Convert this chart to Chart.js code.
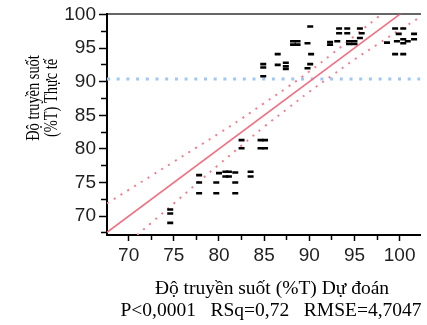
<!DOCTYPE html>
<html><head><meta charset="utf-8">
<script src="https://cdn.jsdelivr.net/npm/chart.js@4/dist/chart.umd.min.js"></script>
<style>html,body{margin:0;padding:0;background:#fff;overflow:hidden}canvas{display:block}</style>
</head><body>
<canvas id="c" width="427" height="325"></canvas>
<script>
const predicted = [
  74.6, 74.6, 74.6,
  77.8, 77.8, 77.8,
  79.7, 79.7, 80.0, 80.7, 80.7, 81.1, 81.1, 81.8, 81.8, 81.8, 83.5, 83.5,
  82.5, 82.5, 84.6, 85.1, 84.6, 85.1,
  84.9, 84.9, 84.9,
  86.5, 86.5, 87.4, 87.4, 87.4,
  88.2, 88.2, 88.7, 88.7, 89.8, 90.1, 90.2, 90.1, 89.8,
  92.3, 92.3, 93.1, 93.3, 93.3, 94.2, 94.2, 94.4, 94.4, 95.0, 95.0, 95.6, 95.8, 95.6,
  98.6, 99.5, 100.4, 99.9, 101.6, 101.6, 99.7, 100.4, 100.9, 100.4, 99.5, 100.4
];
const actual = [
  71.0, 70.4, 69.0,
  76.1, 75.0, 73.4,
  75.0, 73.4, 76.4, 76.6, 75.9, 76.6, 75.9, 76.5, 75.0, 73.4, 76.6, 75.9,
  81.3, 80.1, 81.3, 81.3, 80.1, 80.1,
  92.6, 92.1, 90.8,
  94.1, 92.5, 92.8, 92.3, 91.9,
  96.0, 95.5, 96.0, 95.5, 95.7, 98.2, 94.1, 92.6, 92.0,
  95.9, 95.5, 96.0, 97.9, 97.2, 97.9, 97.2, 96.0, 95.6, 96.0, 95.6, 97.9, 97.2, 96.5,
  95.8, 97.9, 97.9, 97.1, 97.1, 96.3, 96.0, 95.7, 96.0, 96.3, 94.1, 94.1
];
// Fit line (actual = predicted)
const fitX = [67.6, 102.3];
const fitY = [67.6, 102.3];
// Confidence curves
const bandX     = [67.6, 70, 72.5, 75, 77.5, 80, 82.5, 85, 87.5, 90, 92.5, 95, 97.5, 100, 102.3];
const bandUpper = [71.9, 73.9, 76.0, 78.1, 80.2, 82.3, 84.5, 86.8, 89.1, 91.5, 94.1, 96.8, 99.5, 102.3, 105.0];
const bandLower = [63.3, 66.1, 69.0, 71.9, 74.8, 77.7, 80.5, 83.3, 85.9, 88.5, 90.9, 93.3, 95.5, 97.7, 99.6];
const meanActual = 90.4;
const xTickLabels = [70, 75, 80, 85, 90, 95, 100];
const yTickLabels = [70, 75, 80, 85, 90, 95, 100];
const xTitle = ['Độ truyền suốt (%T) Dự đoán', 'P<0,0001   RSq=0,72   RMSE=4,7047'];
const yTitle = ['Độ truyền suốt', '(%T) Thực tế'];

const pts = predicted.map((x, i) => ({x, y: actual[i]}));
const fit = fitX.map((x, i) => ({x, y: fitY[i]}));
const up = bandX.map((x, i) => ({x, y: bandUpper[i]}));
const lo = bandX.map((x, i) => ({x, y: bandLower[i]}));
const mean = [{x: 67.6, y: meanActual}, {x: 102.3, y: meanActual}];

const titlePlugin = {
  id: 'titles',
  afterDraw(chart) {
    const ctx = chart.ctx;
    ctx.save();
    ctx.fillStyle = '#000';
    ctx.textAlign = 'center';
    ctx.textBaseline = 'alphabetic';
    ctx.font = '19.5px "Liberation Serif", "Times New Roman", serif';
    ctx.fillText(xTitle[0], 272, 294);
    ctx.fillText(xTitle[1], 271, 316);
    ctx.font = '16px "Liberation Serif", "Times New Roman", serif';
    [[39, yTitle[0]], [57, yTitle[1]]].forEach(([bx, t]) => {
      ctx.save();
      ctx.translate(bx, 98);
      ctx.rotate(-Math.PI / 2);
      ctx.scale(0.9, 1.22);
      ctx.fillText(t, 0, 0);
      ctx.restore();
    });
    ctx.restore();
  }
};

const tickFont = {family: '"Liberation Sans", Arial, sans-serif', size: 19};
const isMajor = (v, list) => list.includes(v);

new Chart(document.getElementById('c'), {
  type: 'scatter',
  data: {
    datasets: [
      {data: pts, pointStyle: 'line', pointRadius: 3, pointBorderWidth: 2.6,
       borderColor: '#000', backgroundColor: '#000', order: 0},
      {type: 'line', data: fit, borderColor: 'rgb(242,112,130)', borderWidth: 1.6,
       pointRadius: 0, fill: false, order: 1},
      {type: 'line', data: up, borderColor: 'rgb(245,125,145)', borderWidth: 2, borderDash: [2, 6],
       pointRadius: 0, fill: false, tension: 0.4, order: 2},
      {type: 'line', data: lo, borderColor: 'rgb(245,125,145)', borderWidth: 2, borderDash: [2, 6],
       pointRadius: 0, fill: false, tension: 0.4, order: 2},
      {type: 'line', data: mean, borderColor: 'rgb(160,198,245)', borderWidth: 3, borderDash: [3, 6.7],
       pointRadius: 0, fill: false, order: 3}
    ]
  },
  options: {
    responsive: false,
    animation: false,
    events: [],
    layout: {padding: 0},
    plugins: {legend: {display: false}, tooltip: {enabled: false}},
    scales: {
      x: {
        type: 'linear', position: 'bottom', min: 67.6, max: 102.3,
        afterFit(s) { s.height = 90; },
        border: {display: true, color: '#000', width: 2},
        grid: {display: true, drawOnChartArea: false, drawTicks: true, tickLength: 6,
               tickWidth: 1.5, tickColor: '#000',
               tickBorderDash: ctx => isMajor(ctx.tick && ctx.tick.value, xTickLabels) ? [] : [4, 100]},
        ticks: {stepSize: 2.5, includeBounds: false, autoSkip: false, maxRotation: 0, padding: 3,
                color: '#1f1f1f', font: tickFont,
                callback: v => isMajor(v, xTickLabels) ? String(v) : ''}
      },
      x2: {
        type: 'linear', position: 'top', min: 67.6, max: 102.3,
        afterFit(s) { s.height = 13; },
        border: {display: true, color: '#666', width: 2},
        grid: {display: true, drawOnChartArea: false, drawTicks: false},
        ticks: {display: false}
      },
      y: {
        type: 'linear', position: 'left', min: 67.2, max: 100,
        afterFit(s) { s.width = 107; },
        border: {display: true, color: '#000', width: 2},
        grid: {display: true, drawOnChartArea: false, drawTicks: true, tickLength: 8,
               tickWidth: 1.5, tickColor: '#000',
               tickBorderDash: ctx => isMajor(ctx.tick && ctx.tick.value, yTickLabels) ? [] : [0, 2, 5, 100]},
        ticks: {stepSize: 2.5, includeBounds: false, autoSkip: false, padding: 3,
                color: '#1f1f1f', font: tickFont,
                callback: v => isMajor(v, yTickLabels) ? String(v) : ''}
      }
    }
  },
  plugins: [titlePlugin]
});
</script>
</body></html>
